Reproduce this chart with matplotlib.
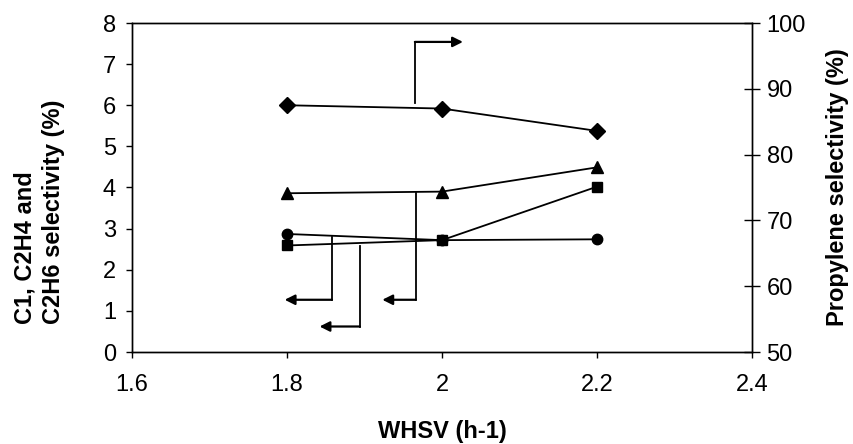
import matplotlib
matplotlib.use("Agg")
import matplotlib.pyplot as plt

plt.rcParams['font.family'] = ['Liberation Sans', 'DejaVu Sans']

# WHSV values
whsv = [1.8, 2.0, 2.2]

# left axis series (C1, C2H4, C2H6 selectivity, %)
tri_vals = [3.86, 3.90, 4.49]
sq_vals = [2.59, 2.72, 4.02]
circ_vals = [2.87, 2.72, 2.74]

# right axis series (propylene selectivity, %)
prop_vals = [87.5, 87.0, 83.6]

x_ticks = [1.6, 1.8, 2.0, 2.2, 2.4]
x_ticklabels = ['1.6', '1.8', '2', '2.2', '2.4']

# pointer arrows: (x_start, y_start, x_corner, y_corner, x_end) in left-axis units
left_arrows = [
    (1.858, 2.79, 1.858, 1.27, 1.797),
    (1.894, 2.58, 1.894, 0.62, 1.842),
    (1.966, 3.87, 1.966, 1.27, 1.923),
]
right_arrow = (1.965, 6.06, 1.965, 7.54, 2.027)

W, H = 854, 444
fig = plt.figure(figsize=(W / 100, H / 100), dpi=100)
ax = fig.add_axes([132 / W, 1 - 352 / H, (752 - 132) / W, (352 - 23) / H])
ax2 = ax.twinx()

lw = 1.3
ax.plot(whsv, tri_vals, color='black', lw=lw, marker='^', ms=8)
ax.plot(whsv, sq_vals, color='black', lw=lw, marker='s', ms=7.5)
ax.plot(whsv, circ_vals, color='black', lw=lw, marker='o', ms=7.5)
ax2.plot(whsv, prop_vals, color='black', lw=lw, marker='D', ms=8.5)

def elbow(a, x0, y0, x1, y1, x2):
    a.plot([x0, x1], [y0, y1], color='black', lw=1.3)
    a.annotate('', xy=(x2, y1), xytext=(x1, y1),
               arrowprops=dict(arrowstyle='-|>', color='black', lw=1.6,
                               mutation_scale=15, shrinkA=0, shrinkB=0))

for arr in left_arrows:
    elbow(ax, *arr)
elbow(ax, *right_arrow)

ax.set_xlim(1.6, 2.4)
ax.set_ylim(0, 8)
ax2.set_ylim(50, 100)
ax.set_xticks(x_ticks)
ax.set_xticklabels(x_ticklabels)
ax.set_yticks(range(0, 9))
ax2.set_yticks(range(50, 101, 10))

fs = 17
ax.tick_params(axis='both', labelsize=fs, direction='out', length=4.5, width=1)
ax.tick_params(axis='x', pad=11)
ax.tick_params(axis='y', pad=7)
ax2.tick_params(axis='y', labelsize=fs, direction='inout', length=11, width=1, pad=5)

for a in (ax, ax2):
    for s in a.spines.values():
        s.set_linewidth(1)

fig.text(442 / W, 1 - 431 / H, 'WHSV (h-1)', fontsize=fs, fontweight='bold',
         ha='center', va='center')
fig.text(39 / W, 1 - 212 / H, 'C1, C2H4 and\nC2H6 selectivity (%)', fontsize=fs,
         fontweight='bold', rotation=90, ha='center', va='center',
         multialignment='left', linespacing=1.3)
fig.text(838 / W, 1 - 187 / H, 'Propylene selectivity (%)', fontsize=fs,
         fontweight='bold', rotation=90, ha='center', va='center')

fig.savefig('out.png', dpi=100)
